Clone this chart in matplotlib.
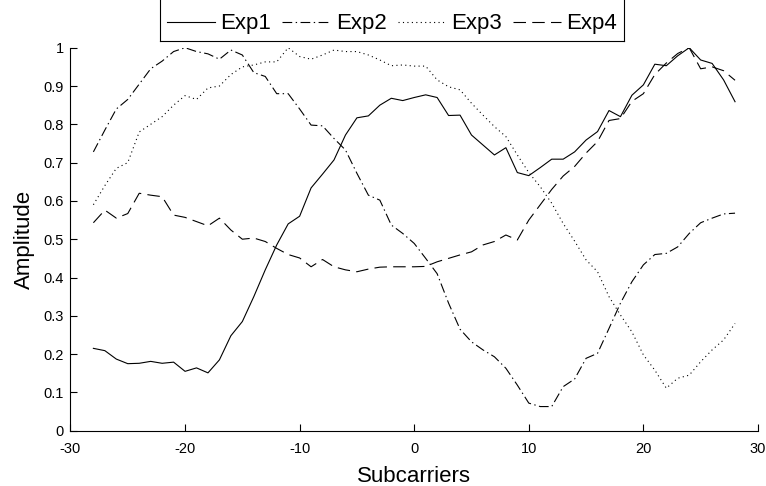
import matplotlib
matplotlib.use('Agg')
from matplotlib import pyplot as plt
from matplotlib.ticker import FuncFormatter
from matplotlib.lines import Line2D

plt.rcParams['font.family'] = ['Liberation Sans', 'DejaVu Sans']
plt.rcParams['axes.unicode_minus'] = False
plt.rcParams['lines.scale_dashes'] = False

# Subcarrier index
subcarriers = list(range(-28, 29))

exp1 = [0.215, 0.209, 0.187, 0.175, 0.176, 0.181, 0.176, 0.179, 0.155, 0.164,
        0.151, 0.185, 0.248, 0.285, 0.350, 0.420, 0.485, 0.540, 0.560, 0.634,
        0.670, 0.707, 0.772, 0.817, 0.822, 0.850, 0.868, 0.862, 0.870, 0.877,
        0.870, 0.823, 0.824, 0.772, 0.746, 0.720, 0.739, 0.674, 0.666, 0.687,
        0.709, 0.709, 0.728, 0.759, 0.781, 0.836, 0.820, 0.876, 0.903, 0.957,
        0.953, 0.979, 1.000, 0.968, 0.959, 0.916, 0.859]
exp2 = [0.728, 0.785, 0.840, 0.865, 0.905, 0.945, 0.965, 0.990, 1.000, 0.990,
        0.984, 0.970, 0.994, 0.981, 0.935, 0.925, 0.880, 0.880, 0.840, 0.798,
        0.796, 0.763, 0.733, 0.672, 0.615, 0.602, 0.537, 0.515, 0.489, 0.450,
        0.410, 0.333, 0.265, 0.232, 0.211, 0.193, 0.163, 0.119, 0.072, 0.063,
        0.063, 0.115, 0.135, 0.189, 0.202, 0.267, 0.333, 0.389, 0.433, 0.460,
        0.463, 0.480, 0.515, 0.543, 0.555, 0.566, 0.568]
exp3 = [0.590, 0.640, 0.685, 0.700, 0.780, 0.800, 0.820, 0.850, 0.875, 0.865,
        0.895, 0.900, 0.930, 0.950, 0.955, 0.963, 0.963, 1.000, 0.977, 0.970,
        0.981, 0.994, 0.990, 0.990, 0.981, 0.968, 0.953, 0.955, 0.952, 0.952,
        0.916, 0.898, 0.890, 0.855, 0.824, 0.794, 0.768, 0.720, 0.674, 0.637,
        0.594, 0.541, 0.495, 0.446, 0.415, 0.350, 0.302, 0.258, 0.198, 0.158,
        0.111, 0.137, 0.145, 0.180, 0.211, 0.237, 0.280]
exp4 = [0.543, 0.576, 0.555, 0.567, 0.620, 0.615, 0.611, 0.563, 0.557, 0.546,
        0.535, 0.555, 0.524, 0.500, 0.503, 0.494, 0.476, 0.460, 0.451, 0.428,
        0.447, 0.428, 0.420, 0.415, 0.422, 0.427, 0.428, 0.428, 0.428, 0.429,
        0.441, 0.450, 0.459, 0.467, 0.485, 0.494, 0.511, 0.498, 0.550, 0.590,
        0.630, 0.665, 0.690, 0.725, 0.755, 0.810, 0.815, 0.860, 0.880, 0.930,
        0.960, 0.985, 1.000, 0.945, 0.950, 0.940, 0.915]

fig = plt.figure(figsize=(7.66, 4.86), dpi=100)
ax = fig.add_axes([0.092, 0.1138, 0.8975, 0.788])

lw = 0.8
ax.plot(subcarriers, exp1, color='black', lw=lw, label='Exp1')
ax.plot(subcarriers, exp2, color='black', lw=lw, dashes=(7, 2.5, 1, 2.5), label='Exp2')
ax.plot(subcarriers, exp3, color='black', lw=lw, dashes=(0.8, 2.4), label='Exp3')
ax.plot(subcarriers, exp4, color='black', lw=lw, dashes=(9, 4.5), label='Exp4')

ax.set_xlim(-30, 30)
ax.set_ylim(0, 1)
ax.set_xticks(range(-30, 31, 10))
ax.set_yticks([i / 10 for i in range(11)])
ax.yaxis.set_major_formatter(FuncFormatter(lambda v, p: '%g' % v))

ax.spines['top'].set_visible(False)
ax.spines['right'].set_visible(False)
for s in ['left', 'bottom']:
    ax.spines[s].set_linewidth(0.8)
ax.tick_params(direction='in', length=5, width=0.8, labelsize=10.5)
ax.tick_params(axis='x', pad=8)
ax.tick_params(axis='y', pad=5)

ax.set_xlabel('Subcarriers', fontsize=16, labelpad=7)
ax.set_ylabel('Amplitude', fontsize=16, labelpad=6)

# legend sits above the axes, its top edge cut off by the figure border
leg = fig.legend(loc='center', bbox_to_anchor=(392 / 766, 1 - 24 / 486),
                 ncol=4, fontsize=16, frameon=False,
                 borderpad=0.3, handlelength=2.15, handletextpad=0.25,
                 columnspacing=0.5, borderaxespad=0)

fig.canvas.draw()
bb = leg.get_window_extent().transformed(fig.transFigure.inverted())
ybot = 1 - 41 / 486
frame_kw = dict(color='black', lw=0.8, transform=fig.transFigure)
fig.add_artist(Line2D([bb.x0, bb.x0], [ybot, 1], **frame_kw))
fig.add_artist(Line2D([bb.x1, bb.x1], [ybot, 1], **frame_kw))
fig.add_artist(Line2D([bb.x0, bb.x1], [ybot, ybot], **frame_kw))

fig.savefig('out.png', dpi=100)
